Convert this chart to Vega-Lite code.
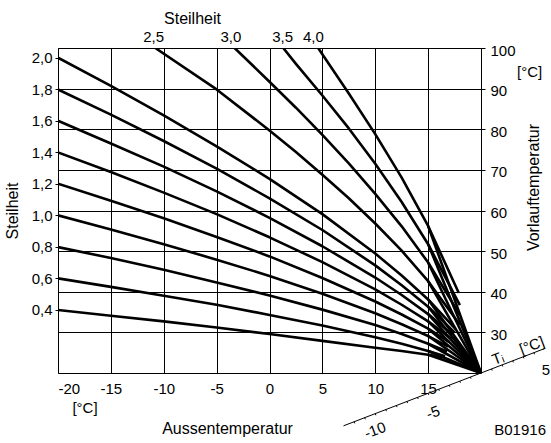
{
  "$schema": "https://vega.github.io/schema/vega-lite/v6.json",
  "width": 423,
  "height": 325,
  "autosize": {"type": "none"},
  "padding": {"left": 58, "top": 48, "right": 70, "bottom": 70},
  "background": "white",
  "config": {
    "font": "Liberation Sans",
    "view": {"stroke": "black", "strokeWidth": 1},
    "axis": {
      "labelFont": "Liberation Sans",
      "labelFontSize": 15,
      "labelColor": "black",
      "titleFont": "Liberation Sans",
      "titleFontSize": 16,
      "titleFontWeight": "normal",
      "titleColor": "black",
      "gridColor": "black",
      "gridOpacity": 1,
      "gridWidth": 1,
      "tickColor": "black",
      "domain": false
    },
    "text": {"font": "Liberation Sans", "fontSize": 15, "color": "black"}
  },
  "datasets": {
    "curves": [
      {"id": "0.4", "ta": -20, "tv": 35.5}, {"id": "0.4", "ta": -15, "tv": 34.1}, {"id": "0.4", "ta": -10, "tv": 32.7}, {"id": "0.4", "ta": -5, "tv": 31.2}, {"id": "0.4", "ta": 0, "tv": 29.6}, {"id": "0.4", "ta": 5, "tv": 27.9}, {"id": "0.4", "ta": 10, "tv": 26.2}, {"id": "0.4", "ta": 12.5, "tv": 25.4}, {"id": "0.4", "ta": 15, "tv": 24.5}, {"id": "0.4", "ta": 16.4, "tv": 23.9},
      {"id": "0.6", "ta": -20, "tv": 43.3}, {"id": "0.6", "ta": -15, "tv": 41.2}, {"id": "0.6", "ta": -10, "tv": 39.0}, {"id": "0.6", "ta": -5, "tv": 36.8}, {"id": "0.6", "ta": 0, "tv": 34.3}, {"id": "0.6", "ta": 5, "tv": 31.7}, {"id": "0.6", "ta": 10, "tv": 28.8}, {"id": "0.6", "ta": 12.5, "tv": 27.2}, {"id": "0.6", "ta": 15, "tv": 25.4}, {"id": "0.6", "ta": 16.6, "tv": 24.1},
      {"id": "0.8", "ta": -20, "tv": 51.0}, {"id": "0.8", "ta": -15, "tv": 48.3}, {"id": "0.8", "ta": -10, "tv": 45.4}, {"id": "0.8", "ta": -5, "tv": 42.3}, {"id": "0.8", "ta": 0, "tv": 39.1}, {"id": "0.8", "ta": 5, "tv": 35.6}, {"id": "0.8", "ta": 10, "tv": 31.8}, {"id": "0.8", "ta": 12.5, "tv": 29.6}, {"id": "0.8", "ta": 15, "tv": 27.2}, {"id": "0.8", "ta": 16.8, "tv": 25.3},
      {"id": "1.0", "ta": -20, "tv": 58.8}, {"id": "1.0", "ta": -15, "tv": 55.3}, {"id": "1.0", "ta": -10, "tv": 51.7}, {"id": "1.0", "ta": -5, "tv": 47.9}, {"id": "1.0", "ta": 0, "tv": 43.9}, {"id": "1.0", "ta": 5, "tv": 39.5}, {"id": "1.0", "ta": 10, "tv": 34.7}, {"id": "1.0", "ta": 12.5, "tv": 32.0}, {"id": "1.0", "ta": 15, "tv": 29.1}, {"id": "1.0", "ta": 16.9, "tv": 26.5},
      {"id": "1.2", "ta": -20, "tv": 66.6}, {"id": "1.2", "ta": -15, "tv": 62.4}, {"id": "1.2", "ta": -10, "tv": 58.1}, {"id": "1.2", "ta": -5, "tv": 53.5}, {"id": "1.2", "ta": 0, "tv": 48.7}, {"id": "1.2", "ta": 5, "tv": 43.4}, {"id": "1.2", "ta": 10, "tv": 37.6}, {"id": "1.2", "ta": 12.5, "tv": 34.4}, {"id": "1.2", "ta": 15, "tv": 30.9}, {"id": "1.2", "ta": 17.0, "tv": 27.6},
      {"id": "1.4", "ta": -20, "tv": 74.3}, {"id": "1.4", "ta": -15, "tv": 69.5}, {"id": "1.4", "ta": -10, "tv": 64.4}, {"id": "1.4", "ta": -5, "tv": 59.1}, {"id": "1.4", "ta": 0, "tv": 53.4}, {"id": "1.4", "ta": 5, "tv": 47.3}, {"id": "1.4", "ta": 10, "tv": 40.6}, {"id": "1.4", "ta": 12.5, "tv": 36.8}, {"id": "1.4", "ta": 15, "tv": 32.7}, {"id": "1.4", "ta": 17.2, "tv": 28.4},
      {"id": "1.6", "ta": -20, "tv": 82.1}, {"id": "1.6", "ta": -15, "tv": 76.5}, {"id": "1.6", "ta": -10, "tv": 70.8}, {"id": "1.6", "ta": -5, "tv": 64.7}, {"id": "1.6", "ta": 0, "tv": 58.2}, {"id": "1.6", "ta": 5, "tv": 51.2}, {"id": "1.6", "ta": 10, "tv": 43.5}, {"id": "1.6", "ta": 12.5, "tv": 39.2}, {"id": "1.6", "ta": 15, "tv": 34.5}, {"id": "1.6", "ta": 17.3, "tv": 29.4},
      {"id": "1.8", "ta": -20, "tv": 89.8}, {"id": "1.8", "ta": -15, "tv": 83.6}, {"id": "1.8", "ta": -10, "tv": 77.1}, {"id": "1.8", "ta": -5, "tv": 70.3}, {"id": "1.8", "ta": 0, "tv": 63.0}, {"id": "1.8", "ta": 5, "tv": 55.2}, {"id": "1.8", "ta": 10, "tv": 46.5}, {"id": "1.8", "ta": 12.5, "tv": 41.6}, {"id": "1.8", "ta": 15, "tv": 36.3}, {"id": "1.8", "ta": 17.5, "tv": 30.0},
      {"id": "2.0", "ta": -20, "tv": 97.6}, {"id": "2.0", "ta": -15, "tv": 90.7}, {"id": "2.0", "ta": -10, "tv": 83.4}, {"id": "2.0", "ta": -5, "tv": 75.8}, {"id": "2.0", "ta": 0, "tv": 67.8}, {"id": "2.0", "ta": 5, "tv": 59.1}, {"id": "2.0", "ta": 10, "tv": 49.4}, {"id": "2.0", "ta": 12.5, "tv": 44.0}, {"id": "2.0", "ta": 15, "tv": 38.1}, {"id": "2.0", "ta": 17.6, "tv": 30.8},
      {"id": "2.5", "ta": -10.8, "tv": 100}, {"id": "2.5", "ta": -5, "tv": 89.8}, {"id": "2.5", "ta": 0, "tv": 79.7}, {"id": "2.5", "ta": 2.5, "tv": 74.4}, {"id": "2.5", "ta": 5, "tv": 68.8}, {"id": "2.5", "ta": 7.5, "tv": 63.0}, {"id": "2.5", "ta": 10, "tv": 56.8}, {"id": "2.5", "ta": 12.5, "tv": 50.1}, {"id": "2.5", "ta": 15, "tv": 42.6}, {"id": "2.5", "ta": 18, "tv": 31.9},
      {"id": "3.0", "ta": -3.3, "tv": 100}, {"id": "3.0", "ta": 0, "tv": 91.7}, {"id": "3.0", "ta": 2.5, "tv": 85.3}, {"id": "3.0", "ta": 5, "tv": 78.6}, {"id": "3.0", "ta": 7.5, "tv": 71.6}, {"id": "3.0", "ta": 10, "tv": 64.1}, {"id": "3.0", "ta": 12.5, "tv": 56.1}, {"id": "3.0", "ta": 15, "tv": 47.2}, {"id": "3.0", "ta": 18, "tv": 34.3},
      {"id": "3.5", "ta": 1.3, "tv": 100}, {"id": "3.5", "ta": 2.5, "tv": 96.1}, {"id": "3.5", "ta": 5, "tv": 88.3}, {"id": "3.5", "ta": 7.5, "tv": 80.2}, {"id": "3.5", "ta": 10, "tv": 71.5}, {"id": "3.5", "ta": 12.5, "tv": 62.1}, {"id": "3.5", "ta": 15, "tv": 51.7}, {"id": "3.5", "ta": 18, "tv": 36.7},
      {"id": "4.0", "ta": 4.6, "tv": 100}, {"id": "4.0", "ta": 7.5, "tv": 88.8}, {"id": "4.0", "ta": 10, "tv": 78.8}, {"id": "4.0", "ta": 12.5, "tv": 68.1}, {"id": "4.0", "ta": 15, "tv": 56.2}, {"id": "4.0", "ta": 17.9, "tv": 39.7},
      {"id": "f0.4", "ta": 15, "tv": 24.5}, {"id": "f0.4", "ta": 20, "tv": 20},
      {"id": "f0.6", "ta": 15, "tv": 25.4}, {"id": "f0.6", "ta": 20, "tv": 20},
      {"id": "f0.8", "ta": 15, "tv": 27.2}, {"id": "f0.8", "ta": 20, "tv": 20},
      {"id": "f1.0", "ta": 15, "tv": 29.1}, {"id": "f1.0", "ta": 20, "tv": 20},
      {"id": "f1.2", "ta": 15, "tv": 30.9}, {"id": "f1.2", "ta": 20, "tv": 20},
      {"id": "f1.4", "ta": 15, "tv": 32.7}, {"id": "f1.4", "ta": 20, "tv": 20},
      {"id": "f1.6", "ta": 15, "tv": 34.5}, {"id": "f1.6", "ta": 20, "tv": 20},
      {"id": "f1.8", "ta": 15, "tv": 36.3}, {"id": "f1.8", "ta": 20, "tv": 20},
      {"id": "f2.0", "ta": 15, "tv": 38.1}, {"id": "f2.0", "ta": 20, "tv": 20},
      {"id": "f2.5", "ta": 15, "tv": 42.6}, {"id": "f2.5", "ta": 20, "tv": 20},
      {"id": "f3.0", "ta": 15, "tv": 47.2}, {"id": "f3.0", "ta": 20, "tv": 20},
      {"id": "f3.5", "ta": 15, "tv": 51.7}, {"id": "f3.5", "ta": 20, "tv": 20},
      {"id": "f4.0", "ta": 15, "tv": 56.2}, {"id": "f4.0", "ta": 20, "tv": 20}
    ]
  },
  "layer": [
    {
      "layer": [
        {
          "data": {"name": "curves"},
          "mark": {"type": "line", "color": "black", "strokeWidth": 2.6, "strokeJoin": "round", "clip": true},
          "encoding": {
            "x": {
              "field": "ta", "type": "quantitative",
              "scale": {"domain": [-20, 20], "nice": false, "zero": false},
              "axis": {
                "orient": "bottom",
                "values": [-20, -15, -10, -5, 0, 5, 10, 15],
                "labelExpr": "'' + datum.value",
                "grid": true, "ticks": false, "tickSize": 0, "labelPadding": 8,
                "title": "Aussentemperatur",
                "titleX": 169, "titleY": 55, "titleAlign": "center", "titleBaseline": "middle", "titleAnchor": null
              }
            },
            "y": {
              "field": "tv", "type": "quantitative",
              "scale": {"domain": [20, 100], "nice": false, "zero": false},
              "axis": {
                "orient": "right",
                "values": [30, 40, 50, 60, 70, 80, 90, 100],
                "grid": true, "ticks": true, "tickSize": 4, "labelPadding": 5, "labelOffset": 2,
                "title": "Vorlauftemperatur",
                "titleAngle": 270, "titleX": 52, "titleY": 139, "titleAlign": "center", "titleBaseline": "middle", "titleAnchor": null
              }
            },
            "detail": {"field": "id", "type": "nominal"}
          }
        },
        {
          "data": {"values": [{"ta": 7, "tv": 7}, {"ta": 26, "tv": 26}]},
          "mark": {"type": "line", "color": "black", "strokeWidth": 1},
          "encoding": {
            "x": {"field": "ta", "type": "quantitative", "scale": {"domain": [-20, 20], "nice": false, "zero": false}},
            "y": {"field": "tv", "type": "quantitative", "scale": {"domain": [20, 100], "nice": false, "zero": false}}
          }
        },
        {
          "data": {"values": [
            {"ta": 8, "tv": 8}, {"ta": 9, "tv": 9}, {"ta": 10, "tv": 10}, {"ta": 11, "tv": 11}, {"ta": 12, "tv": 12},
            {"ta": 13, "tv": 13}, {"ta": 14, "tv": 14}, {"ta": 15, "tv": 15}, {"ta": 16, "tv": 16}, {"ta": 17, "tv": 17},
            {"ta": 18, "tv": 18}, {"ta": 19, "tv": 19}, {"ta": 21, "tv": 21}, {"ta": 22, "tv": 22}, {"ta": 23, "tv": 23},
            {"ta": 24, "tv": 24}, {"ta": 25, "tv": 25}
          ]},
          "mark": {"type": "point", "shape": "M0,0L0.36,0.93", "filled": false, "color": "black", "strokeWidth": 1, "size": 12, "opacity": 1},
          "encoding": {
            "x": {"field": "ta", "type": "quantitative", "scale": {"domain": [-20, 20], "nice": false, "zero": false}},
            "y": {"field": "tv", "type": "quantitative", "scale": {"domain": [20, 100], "nice": false, "zero": false}}
          }
        },
        {
          "data": {"values": [
            {"ta": 9.98, "tv": 5.9, "label": "-10"},
            {"ta": 15.46, "tv": 10.3, "label": "-5"},
            {"ta": 21.6, "tv": 23.6, "label": "Tᵢ"},
            {"ta": 24.8, "tv": 26.8, "label": "[°C]"}
          ]},
          "mark": {"type": "text", "angle": 339.5, "align": "center", "baseline": "middle", "fontSize": 15},
          "encoding": {
            "x": {"field": "ta", "type": "quantitative", "scale": {"domain": [-20, 20], "nice": false, "zero": false}},
            "y": {"field": "tv", "type": "quantitative", "scale": {"domain": [20, 100], "nice": false, "zero": false}},
            "text": {"field": "label", "type": "nominal"}
          }
        },
        {
          "data": {"values": [
            {"ta": 26.15, "tv": 20.7, "label": "5"},
            {"ta": -17.45, "tv": 11.3, "label": "[°C]"},
            {"ta": 24.6, "tv": 94.1, "label": "[°C]"},
            {"ta": 23.7, "tv": 5.9, "label": "B01916"}
          ]},
          "mark": {"type": "text", "align": "center", "baseline": "middle", "fontSize": 15},
          "encoding": {
            "x": {"field": "ta", "type": "quantitative", "scale": {"domain": [-20, 20], "nice": false, "zero": false}},
            "y": {"field": "tv", "type": "quantitative", "scale": {"domain": [20, 100], "nice": false, "zero": false}},
            "text": {"field": "label", "type": "nominal"}
          }
        }
      ]
    },
    {
      "data": {"values": [{"pos": -11.0, "s": 2.0}]},
      "mark": {"type": "point", "opacity": 0},
      "encoding": {
        "x": {
          "field": "pos", "type": "quantitative",
          "scale": {"domain": [-20, 20], "nice": false, "zero": false},
          "axis": {
            "orient": "top",
            "values": [-11.0, -3.7, 1.2, 4.1],
            "labelExpr": "datum.value < -7 ? '2,5' : datum.value < -1 ? '3,0' : datum.value < 3 ? '3,5' : '4,0'",
            "grid": false, "ticks": false, "tickSize": 0, "labelPadding": 4,
            "title": "Steilheit",
            "titleX": 134, "titleY": -30, "titleAlign": "center", "titleBaseline": "middle", "titleAnchor": null
          }
        },
        "y": {
          "field": "s", "type": "quantitative",
          "scale": {"domain": [0, 2.0619], "nice": false, "zero": false},
          "axis": {
            "orient": "left",
            "values": [0.4, 0.6, 0.8, 1.0, 1.2, 1.4, 1.6, 1.8, 2.0],
            "labelExpr": "replace(format(datum.value, '.1f'), '.', ',')",
            "grid": false, "ticks": true, "tickSize": 3, "labelPadding": 3,
            "title": "Steilheit",
            "titleAngle": 270, "titleX": -46, "titleY": 162.5, "titleAlign": "center", "titleBaseline": "middle", "titleAnchor": null
          }
        }
      }
    }
  ],
  "resolve": {"scale": {"x": "independent", "y": "independent"}}
}
